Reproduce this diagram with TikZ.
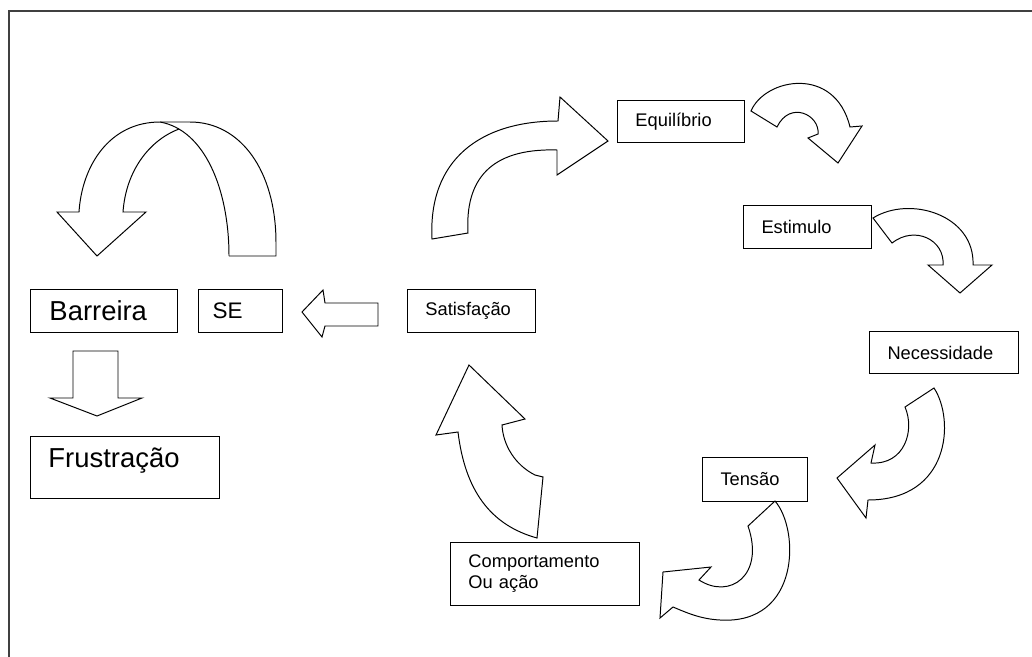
\documentclass[tikz,border=0pt]{standalone}
\usepackage{fontspec}
\setmainfont{Liberation Sans}
\begin{document}
\begin{tikzpicture}[x=0.025cm, y=-0.025cm,
    caixa/.style={draw, line width=0.7pt, anchor=north west, align=left, inner xsep=12.8pt, inner ysep=0pt, font=\fontsize{13}{15}\selectfont},
    grande/.style={font=\fontsize{19.5}{22}\selectfont},
    seta/.style={draw, line width=0.7pt, line join=miter}]
\useasboundingbox (0,0) rectangle (1032,657);
\draw [black!75, line width=1.5pt] (9,657) -- (9,11) -- (1032,11);

\node [caixa, text width=64.7pt, minimum height=29.9pt] (equilibrio) at (617,100) {Equilíbrio};
\node [caixa, text width=65.4pt, minimum height=30.6pt] (estimulo) at (743,205) {Estimulo};
\node [caixa, text width=80.4pt, minimum height=29.9pt] (necessidade) at (869,331) {Necessidade};
\node [caixa, text width=49.1pt, minimum height=31.3pt] (tensao) at (702,457) {Tensão};
\node [caixa, text width=65.4pt, minimum height=30.6pt] (satisfacao) at (407,289) {Satisfação};
\node [caixa, text width=108.8pt, minimum height=44.8pt] (comportamento) at (450,542) {Comportamento\\Ou ação};
\node [caixa, grande, inner xsep=13.5pt, text width=77.6pt, minimum height=30.6pt] (barreira) at (30,289) {Barreira};
\node [caixa, font=\fontsize{16}{19}\selectfont, inner xsep=10pt, text width=39.7pt, minimum height=30.6pt] (se) at (198,289) {SE};
\node [caixa, grande, text width=108.8pt, minimum height=44.1pt, text height=14pt, text depth=14pt] (frustracao) at (30,436) {Frustração};

\draw [seta] (229,256) -- (276,256) -- (276,243) .. controls (276,170) and (240,122) .. (190,122) -- (160,122) .. controls (110,122) and (82,165) .. (79,212) -- (57,212) -- (97,256) -- (146,212) -- (123,212) .. controls (126,170) and (150,140) .. (179,129);
\draw [seta] (229,256) .. controls (229,190) and (205,130) .. (160,122);

\draw [seta] (378,303) -- (325,303) -- (323,290) -- (302,312) -- (322,337) -- (325,326) -- (378,326) -- cycle;
\draw [seta] (73,351) -- (118,351) -- (118,398) -- (142,398) -- (97,416) -- (50,398) -- (73,398) -- cycle;

\draw [seta] (432,239) .. controls (428,160) and (480,121) .. (558,121) -- (560,97) -- (608,141) -- (557,175) -- (557,150) .. controls (490,148) and (465,180) .. (468,233) -- cycle;
\draw [seta] (751,111) .. controls (765,78) and (835,65) .. (850,127) -- (862,126) -- (838,163) -- (808,138) -- (818,134) .. controls (820,115) and (790,100) .. (777,127) -- cycle;
\draw [seta] (873,218) .. controls (910,195) and (975,215) .. (973,265) -- (992,265) -- (960,293) -- (928,265) -- (943,265) .. controls (945,240) and (915,225) .. (892,243) -- cycle;
\draw [seta] (934,388) .. controls (955,420) and (950,500) .. (868,500) -- (866,518) -- (837,478) -- (875,445) -- (871,463) .. controls (905,465) and (915,430) .. (905,407) -- cycle;
\draw [seta] (775,501) .. controls (800,530) and (800,625) .. (720,620) .. controls (700,619) and (685,612) .. (673,607) -- (660,618) -- (663,572) -- (711,567) -- (699,580) .. controls (730,600) and (765,575) .. (748,526) -- cycle;
\draw [seta] (537,538) -- (543,477) -- (535,475) .. controls (515,465) and (503,445) .. (502,425) -- (525,419) -- (469,365) -- (436,435) -- (458,432) .. controls (465,490) and (490,525) .. (537,538) -- cycle;
\end{tikzpicture}
\end{document}
